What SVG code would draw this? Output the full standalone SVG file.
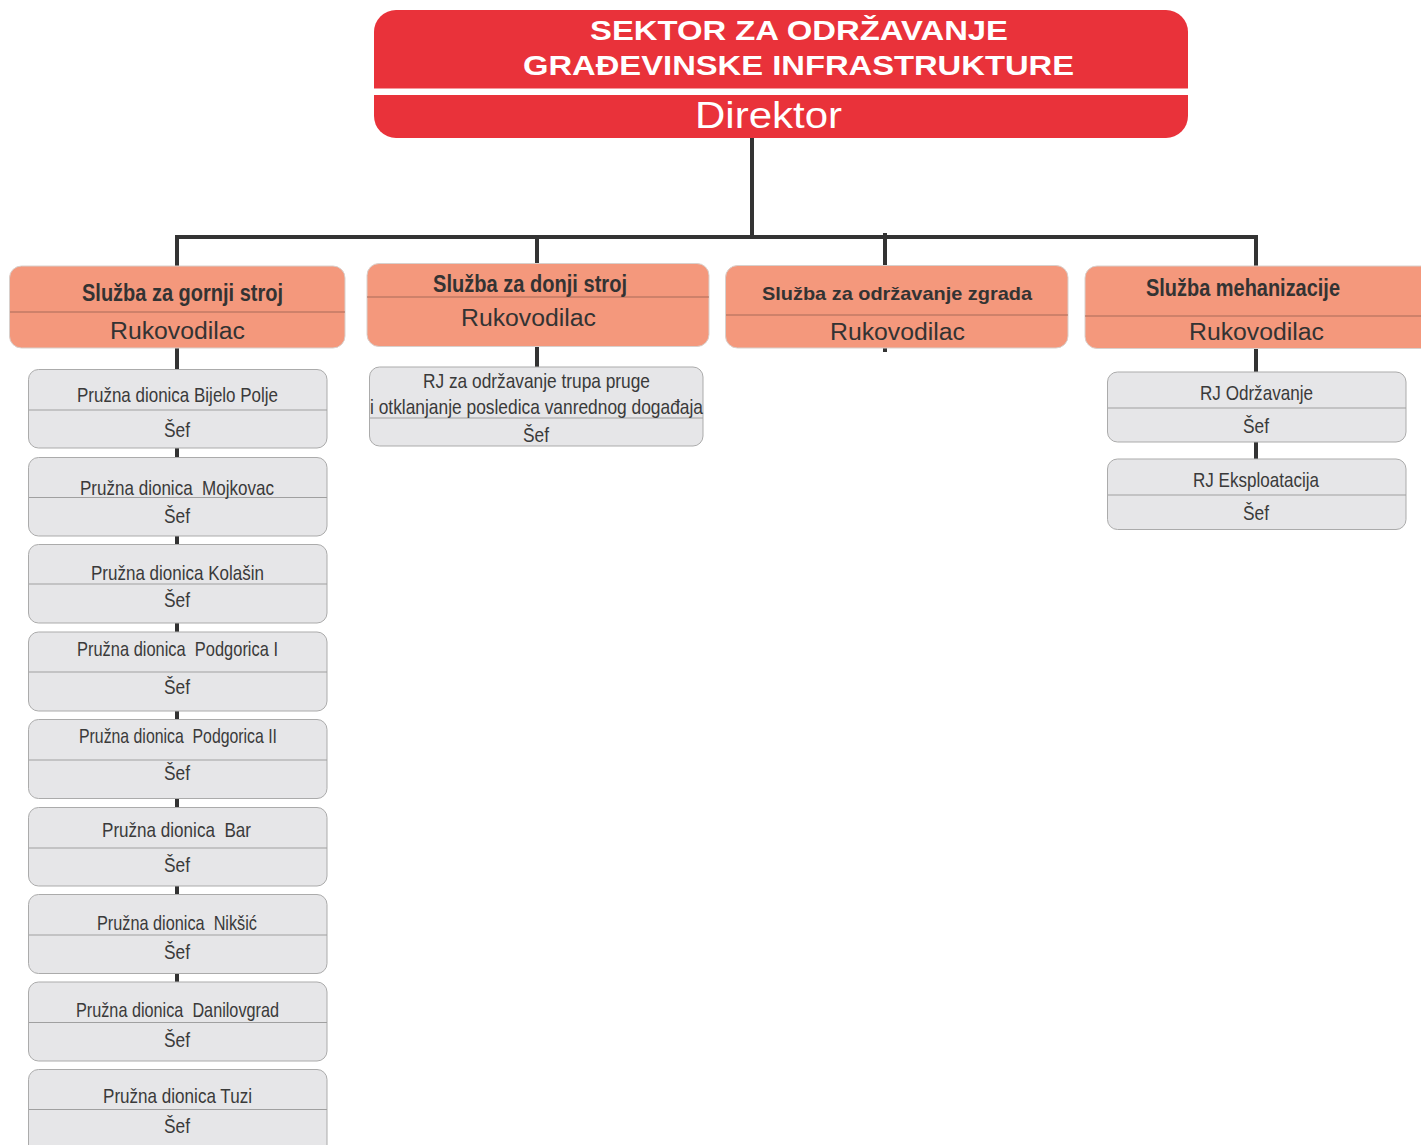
<svg xmlns="http://www.w3.org/2000/svg" width="1421" height="1145" viewBox="0 0 1421 1145">
<style>
.con{stroke:#333;stroke-width:4;fill:none}
.top{fill:#E9323A}
.org{fill:#F4987C;stroke:#D8D0CC;stroke-width:1}
.odiv{stroke:#A86A58;stroke-width:1}
.gry{fill:#E6E6E8;stroke:#ABABAB;stroke-width:1}
.gdiv{stroke:#A0A0A0;stroke-width:1}
.tt{font-family:"Liberation Sans",Arial,sans-serif;font-weight:bold;fill:#fff;text-anchor:middle}
.dir{font-family:"Liberation Sans",Arial,sans-serif;fill:#fff;text-anchor:middle;font-size:37px}
.ot{font-family:"Liberation Sans",Arial,sans-serif;font-weight:bold;fill:#333;text-anchor:middle}
.ruk{font-family:"Liberation Sans",Arial,sans-serif;fill:#333;text-anchor:middle;font-size:23px}
.gt{font-family:"Liberation Sans Narrow","Liberation Sans",Arial,sans-serif;fill:#3a3a3a;text-anchor:middle;font-size:21px;white-space:pre}
</style>
<rect width="1421" height="1145" fill="#fff"/>
<g id="connectors">
<line class="con" x1="752" y1="136" x2="752" y2="237"/>
<path class="con" d="M177,268 V237 H1256 V268"/>
<line class="con" x1="537" y1="237" x2="537" y2="266"/>
<line class="con" x1="885" y1="233" x2="885" y2="268"/>
<line class="con" x1="885" y1="346" x2="885" y2="352"/>
<line class="con" x1="177" y1="346" x2="177" y2="372"/>
<line class="con" x1="177" y1="446" x2="177" y2="460"/>
<line class="con" x1="177" y1="534" x2="177" y2="547"/>
<line class="con" x1="177" y1="621" x2="177" y2="634"/>
<line class="con" x1="177" y1="709" x2="177" y2="722"/>
<line class="con" x1="177" y1="797" x2="177" y2="810"/>
<line class="con" x1="177" y1="884" x2="177" y2="897"/>
<line class="con" x1="177" y1="972" x2="177" y2="984"/>
<line class="con" x1="537" y1="345" x2="537" y2="369"/>
<line class="con" x1="1256" y1="346" x2="1256" y2="374"/>
<line class="con" x1="1256" y1="440" x2="1256" y2="461"/>
</g>
<g id="sektor">
<rect class="top" x="374" y="10" width="814" height="128" rx="22"/>
<rect x="374" y="88.5" width="814" height="6.5" fill="#fff"/>
<text class="tt" x="799" y="40" font-size="28" textLength="418" lengthAdjust="spacingAndGlyphs">SEKTOR ZA ODRŽAVANJE</text>
<text class="tt" x="798.5" y="75" font-size="28" textLength="551" lengthAdjust="spacingAndGlyphs">GRAĐEVINSKE INFRASTRUKTURE</text>
<text class="dir" x="768.5" y="128" textLength="147" lengthAdjust="spacingAndGlyphs">Direktor</text>
</g>
<g id="gornji">
<rect class="org" x="9.5" y="266" width="335.5" height="82" rx="12"/>
<line class="odiv" x1="10" y1="312" x2="345" y2="312"/>
<text class="ot" x="182.5" y="301" font-size="23" textLength="201" lengthAdjust="spacingAndGlyphs">Služba za gornji stroj</text>
<text class="ruk" x="177.5" y="339" textLength="135" lengthAdjust="spacingAndGlyphs">Rukovodilac</text>
</g>
<g id="donji">
<rect class="org" x="367" y="263.5" width="342" height="83" rx="12"/>
<line class="odiv" x1="367" y1="297" x2="709" y2="297"/>
<text class="ot" x="530" y="292" font-size="23" textLength="194" lengthAdjust="spacingAndGlyphs">Služba za donji stroj</text>
<text class="ruk" x="528.5" y="326" textLength="135" lengthAdjust="spacingAndGlyphs">Rukovodilac</text>
</g>
<g id="zgrada">
<rect class="org" x="725.5" y="265.5" width="342.5" height="82.5" rx="12"/>
<line class="odiv" x1="726" y1="315" x2="1068" y2="315"/>
<text class="ot" x="897" y="300" font-size="18.5" textLength="270" lengthAdjust="spacingAndGlyphs">Služba za održavanje zgrada</text>
<text class="ruk" x="897.5" y="340" textLength="135" lengthAdjust="spacingAndGlyphs">Rukovodilac</text>
</g>
<g id="mehanizacija">
<rect class="org" x="1085" y="266" width="350" height="82.5" rx="12"/>
<line class="odiv" x1="1085" y1="316" x2="1421" y2="316"/>
<text class="ot" x="1243" y="296" font-size="23" textLength="194" lengthAdjust="spacingAndGlyphs">Služba mehanizacije</text>
<text class="ruk" x="1256.5" y="340" textLength="135" lengthAdjust="spacingAndGlyphs">Rukovodilac</text>
</g>
<g id="bijelo-polje">
<rect class="gry" x="28.5" y="369.5" width="298.5" height="78.5" rx="10"/>
<line class="gdiv" x1="29" y1="410" x2="327" y2="410"/>
<text class="gt" x="177.5" y="402" textLength="201" lengthAdjust="spacingAndGlyphs">Pružna dionica Bijelo Polje</text>
<text class="gt" x="177" y="437" textLength="26" lengthAdjust="spacingAndGlyphs">Šef</text>
</g>
<g id="mojkovac">
<rect class="gry" x="28.5" y="457.5" width="298.5" height="78.5" rx="10"/>
<line class="gdiv" x1="29" y1="497.5" x2="327" y2="497.5"/>
<text class="gt" x="177" y="495" textLength="194" lengthAdjust="spacingAndGlyphs" xml:space="preserve">Pružna dionica  Mojkovac</text>
<text class="gt" x="177" y="523" textLength="26" lengthAdjust="spacingAndGlyphs">Šef</text>
</g>
<g id="kolasin">
<rect class="gry" x="28.5" y="544.5" width="298.5" height="78.5" rx="10"/>
<line class="gdiv" x1="29" y1="584" x2="327" y2="584"/>
<text class="gt" x="177.5" y="580" textLength="173" lengthAdjust="spacingAndGlyphs">Pružna dionica Kolašin</text>
<text class="gt" x="177" y="607" textLength="26" lengthAdjust="spacingAndGlyphs">Šef</text>
</g>
<g id="podgorica-1">
<rect class="gry" x="28.5" y="632" width="298.5" height="79" rx="10"/>
<line class="gdiv" x1="29" y1="672" x2="327" y2="672"/>
<text class="gt" x="177.5" y="656" textLength="201" lengthAdjust="spacingAndGlyphs" xml:space="preserve">Pružna dionica  Podgorica I</text>
<text class="gt" x="177" y="694" textLength="26" lengthAdjust="spacingAndGlyphs">Šef</text>
</g>
<g id="podgorica-2">
<rect class="gry" x="28.5" y="719.5" width="298.5" height="79" rx="10"/>
<line class="gdiv" x1="29" y1="760" x2="327" y2="760"/>
<text class="gt" x="178" y="743" textLength="198" lengthAdjust="spacingAndGlyphs" xml:space="preserve">Pružna dionica  Podgorica II</text>
<text class="gt" x="177" y="780" textLength="26" lengthAdjust="spacingAndGlyphs">Šef</text>
</g>
<g id="bar">
<rect class="gry" x="28.5" y="807.5" width="298.5" height="78.5" rx="10"/>
<line class="gdiv" x1="29" y1="848" x2="327" y2="848"/>
<text class="gt" x="176.5" y="837" textLength="149" lengthAdjust="spacingAndGlyphs" xml:space="preserve">Pružna dionica  Bar</text>
<text class="gt" x="177" y="872" textLength="26" lengthAdjust="spacingAndGlyphs">Šef</text>
</g>
<g id="niksic">
<rect class="gry" x="28.5" y="894.5" width="298.5" height="79" rx="10"/>
<line class="gdiv" x1="29" y1="935" x2="327" y2="935"/>
<text class="gt" x="177" y="930" textLength="160" lengthAdjust="spacingAndGlyphs" xml:space="preserve">Pružna dionica  Nikšić</text>
<text class="gt" x="177" y="959" textLength="26" lengthAdjust="spacingAndGlyphs">Šef</text>
</g>
<g id="danilovgrad">
<rect class="gry" x="28.5" y="982" width="298.5" height="79" rx="10"/>
<line class="gdiv" x1="29" y1="1022.5" x2="327" y2="1022.5"/>
<text class="gt" x="177.5" y="1017" textLength="203" lengthAdjust="spacingAndGlyphs" xml:space="preserve">Pružna dionica  Danilovgrad</text>
<text class="gt" x="177" y="1047" textLength="26" lengthAdjust="spacingAndGlyphs">Šef</text>
</g>
<g id="tuzi">
<rect class="gry" x="28.5" y="1069.5" width="298.5" height="90" rx="10"/>
<line class="gdiv" x1="29" y1="1109.5" x2="327" y2="1109.5"/>
<text class="gt" x="177.5" y="1103" textLength="149" lengthAdjust="spacingAndGlyphs">Pružna dionica Tuzi</text>
<text class="gt" x="177" y="1133" textLength="26" lengthAdjust="spacingAndGlyphs">Šef</text>
</g>
<g id="rj-trup">
<rect class="gry" x="369.5" y="367" width="333.5" height="79" rx="10"/>
<line class="gdiv" x1="370" y1="418" x2="703" y2="418"/>
<text class="gt" x="536.5" y="388" textLength="227" lengthAdjust="spacingAndGlyphs">RJ za održavanje trupa pruge</text>
<text class="gt" x="536.5" y="414" textLength="333" lengthAdjust="spacingAndGlyphs">i otklanjanje posledica vanrednog događaja</text>
<text class="gt" x="536" y="442" textLength="26" lengthAdjust="spacingAndGlyphs">Šef</text>
</g>
<g id="rj-odrzavanje">
<rect class="gry" x="1107.5" y="372" width="298.5" height="70" rx="10"/>
<line class="gdiv" x1="1108" y1="408" x2="1406" y2="408"/>
<text class="gt" x="1256.5" y="400" textLength="113" lengthAdjust="spacingAndGlyphs">RJ Održavanje</text>
<text class="gt" x="1256" y="433" textLength="26" lengthAdjust="spacingAndGlyphs">Šef</text>
</g>
<g id="rj-eksploatacija">
<rect class="gry" x="1107.5" y="459" width="298.5" height="70.5" rx="10"/>
<line class="gdiv" x1="1108" y1="495" x2="1406" y2="495"/>
<text class="gt" x="1256" y="487" textLength="126" lengthAdjust="spacingAndGlyphs">RJ Eksploatacija</text>
<text class="gt" x="1256" y="520" textLength="26" lengthAdjust="spacingAndGlyphs">Šef</text>
</g>
</svg>
